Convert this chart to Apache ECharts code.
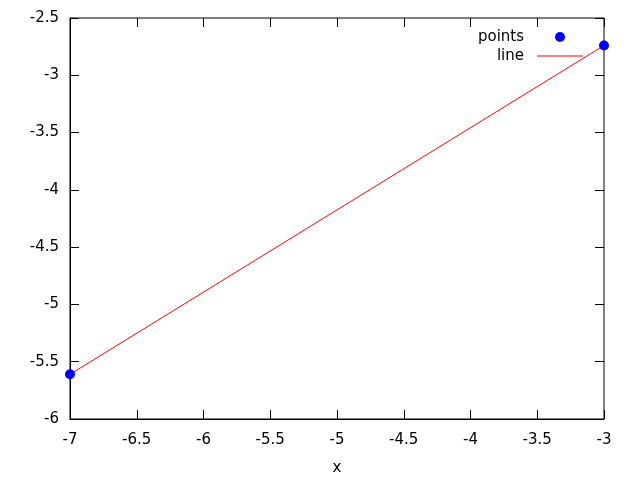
<!DOCTYPE html>
<html>
<head>
<meta charset="utf-8">
<script src="https://cdn.jsdelivr.net/npm/echarts@6/dist/echarts.min.js"></script>
<style>
  html, body { margin: 0; padding: 0; background: #fff; }
  #chart { width: 640px; height: 480px; }
</style>
</head>
<body>
<div id="chart"></div>
<script>
// data
const pointsX = [-7, -3]
const pointsY = [-5.61, -2.74]
const lineX = [-7, -3]
const lineY = [-5.61, -2.74]

const xName = 'x'
const xRange = [-7, -3]
const yRange = [-6, -2.5]

const font = 'DejaVu Sans'
const fontSize = 15
const chart = echarts.init(document.getElementById('chart'))

const tickStyle = {
  show: true,
  inside: true,
  length: 9,
  lineStyle: { color: '#000', width: 1 }
}

const option = {
  animation: false,
  textStyle: { fontFamily: font, fontSize: fontSize, color: '#000' },
  grid: {
    left: 70,
    right: 36,
    top: 18,
    bottom: 61,
    outerBoundsMode: 'none',
    containLabel: false,
    show: true,
    borderColor: '#000',
    borderWidth: 1
  },
  legend: {
    orient: 'vertical',
    align: 'right',
    right: 52,
    top: 23,
    itemWidth: 46,
    itemHeight: 10,
    itemGap: 1,
    selectedMode: false,
    textStyle: { fontFamily: font, fontSize: fontSize, color: '#000', lineHeight: 18, padding: [0, 8, 0, 0] },
    data: [
      { name: 'points', icon: 'circle' },
      { name: 'line', icon: 'path://M0,0 L46,0 L46,1 L0,1 Z' }
    ]
  },
  xAxis: [
    {
      type: 'value',
      min: xRange[0],
      max: xRange[1],
      interval: 0.5,
      name: xName,
      nameLocation: 'middle',
      nameGap: 42,
      nameTextStyle: { fontFamily: font, fontSize: fontSize, color: '#000' },
      axisLine: { show: true, onZero: false, lineStyle: { color: '#000' } },
      axisTick: tickStyle,
      axisLabel: { margin: 14, color: '#000', fontFamily: font, fontSize: fontSize },
      splitLine: { show: false }
    },
    {
      type: 'value',
      position: 'top',
      min: xRange[0],
      max: xRange[1],
      interval: 0.5,
      axisLine: { show: false },
      axisTick: tickStyle,
      axisLabel: { show: false },
      splitLine: { show: false }
    }
  ],
  yAxis: [
    {
      type: 'value',
      min: yRange[0],
      max: yRange[1],
      interval: 0.5,
      axisLine: { show: true, onZero: false, lineStyle: { color: '#000' } },
      axisTick: tickStyle,
      axisLabel: { margin: 11, color: '#000', fontFamily: font, fontSize: fontSize },
      splitLine: { show: false }
    },
    {
      type: 'value',
      position: 'right',
      min: yRange[0],
      max: yRange[1],
      interval: 0.5,
      axisLine: { show: false },
      axisTick: tickStyle,
      axisLabel: { show: false },
      splitLine: { show: false }
    }
  ],
  series: [
    {
      name: 'line',
      type: 'line',
      data: lineX.map((x, i) => [x, lineY[i]]),
      showSymbol: false,
      symbol: 'none',
      color: '#ff0000',
      lineStyle: { color: '#ff0000', width: 1 },
      z: 2
    },
    {
      name: 'points',
      type: 'scatter',
      data: pointsX.map((x, i) => [x, pointsY[i]]),
      symbol: 'circle',
      symbolSize: 10,
      color: '#0000ff',
      itemStyle: { color: '#0000ff', opacity: 1 },
      z: 3
    }
  ]
}

chart.setOption(option)
</script>
</body>
</html>
